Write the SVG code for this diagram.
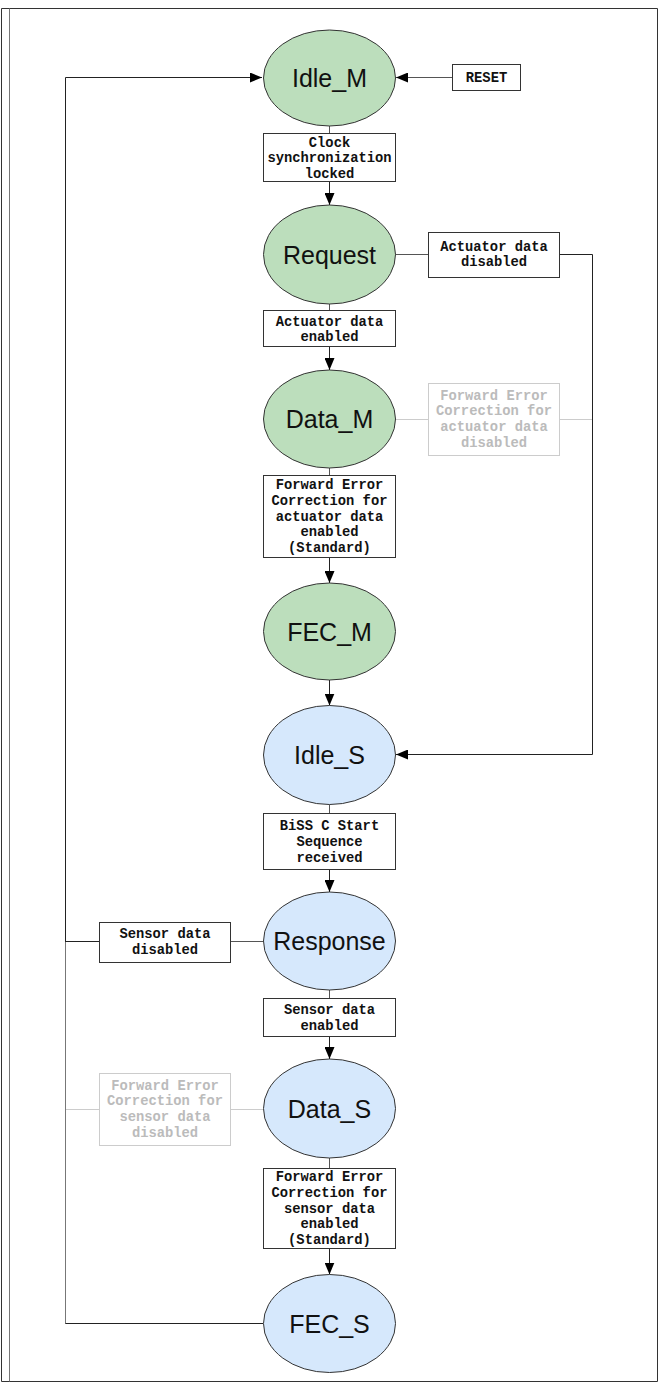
<svg xmlns="http://www.w3.org/2000/svg" width="660" height="1382" viewBox="0 0 660 1382">
<style>
.st{stroke:#333;stroke-width:1}
.g{fill:#bcdebc}
.b{fill:#d6e8fc}
.lbl{font-family:"Liberation Sans",Arial,sans-serif;font-size:25px;fill:#111;text-anchor:middle}
.box{fill:#fff;stroke:#333;stroke-width:1}
.gbox{fill:#fff;stroke:#ccc;stroke-width:1}
.bt{font-family:"Liberation Mono","Courier New",monospace;font-weight:bold;font-size:13.8px;fill:#111;text-anchor:middle}
.gt{font-family:"Liberation Mono","Courier New",monospace;font-weight:bold;font-size:13.8px;fill:#bbb;text-anchor:middle}
.c{fill:none;stroke:#222;stroke-width:1}
.cl{fill:none;stroke:#555;stroke-width:1}
.cm{fill:none;stroke:#777;stroke-width:1}
.cg{fill:none;stroke:#ccc;stroke-width:1}
</style>
<defs>
<marker id="arr" markerWidth="12" markerHeight="10" refX="12" refY="5" orient="auto" markerUnits="userSpaceOnUse"><path d="M0,0 L12,5 L0,10 z" fill="#000"/></marker>
</defs>
<rect x="0" y="0" width="660" height="1382" fill="#fff"/>
<g id="frame">
<path d="M1.5,8.5 H657.5 V1381.5 H1.5 Z" fill="none" stroke="#333" stroke-width="1"/>
<line x1="9.5" y1="8.5" x2="9.5" y2="1381.5" stroke="#777" stroke-width="1"/>
</g>
<g id="connectors">
<path class="c" d="M263,1323.5 H65.5 V77.5 H262" marker-end="url(#arr)"/>
<path class="cm" d="M65.5,1323 V942"/>
<path class="cg" d="M263,1109.5 H230"/>
<path class="cg" d="M99,1109.5 H66"/>
<path class="cl" d="M263,941.5 H230"/>
<path class="c" d="M99,941.5 H65.5 V80"/>
<path class="cl" d="M452,77.5 H396" marker-end="url(#arr)"/>
<path class="cl" d="M329.5,126 V133"/>
<path class="c" d="M329.5,182 V205" marker-end="url(#arr)"/>
<path class="cg" d="M395,419.5 H428"/>
<path class="cg" d="M559,419.5 H592.5"/>
<path class="cl" d="M395,254.5 H428"/>
<path class="c" d="M559,254.5 H592.5 V754.5 H396" marker-end="url(#arr)"/>
<path class="cl" d="M329.5,304 V310"/>
<path class="c" d="M329.5,346 V370" marker-end="url(#arr)"/>
<path class="cl" d="M329.5,468 V475"/>
<path class="c" d="M329.5,557 V583" marker-end="url(#arr)"/>
<path class="c" d="M329.5,680 V705.5" marker-end="url(#arr)"/>
<path class="cl" d="M329.5,804.5 V813"/>
<path class="c" d="M329.5,869 V892" marker-end="url(#arr)"/>
<path class="cl" d="M329.5,990 V998"/>
<path class="c" d="M329.5,1036 V1059" marker-end="url(#arr)"/>
<path class="cl" d="M329.5,1158 V1168"/>
<path class="c" d="M329.5,1248 V1274.5" marker-end="url(#arr)"/>
</g>
<g id="Idle_M"><ellipse class="st g" cx="329.5" cy="78" rx="66" ry="48"/><text class="lbl" x="329.5" y="87">Idle_M</text></g>
<g id="Request"><ellipse class="st g" cx="329.5" cy="254.5" rx="66" ry="49.5"/><text class="lbl" x="329.5" y="263.5">Request</text></g>
<g id="Data_M"><ellipse class="st g" cx="329.5" cy="419" rx="66" ry="49"/><text class="lbl" x="329.5" y="428">Data_M</text></g>
<g id="FEC_M"><ellipse class="st g" cx="329.5" cy="631.5" rx="66" ry="48.5"/><text class="lbl" x="329.5" y="640.5">FEC_M</text></g>
<g id="Idle_S"><ellipse class="st b" cx="329.5" cy="755" rx="66" ry="49.5"/><text class="lbl" x="329.5" y="764">Idle_S</text></g>
<g id="Response"><ellipse class="st b" cx="329.5" cy="941" rx="66" ry="49"/><text class="lbl" x="329.5" y="950">Response</text></g>
<g id="Data_S"><ellipse class="st b" cx="329.5" cy="1108.5" rx="66" ry="49.5"/><text class="lbl" x="329.5" y="1117.5">Data_S</text></g>
<g id="FEC_S"><ellipse class="st b" cx="329.5" cy="1323.5" rx="66" ry="49"/><text class="lbl" x="329.5" y="1332.5">FEC_S</text></g>
<g id="RESET"><rect class="box" x="452.5" y="64.5" width="68" height="26"/><text class="bt" x="486.5" y="81.5">RESET</text></g>
<g id="clock_locked"><rect class="box" x="263.5" y="133.5" width="132" height="48"/><text class="bt" x="329.5" y="146.5">Clock</text><text class="bt" x="329.5" y="162">synchronization</text><text class="bt" x="329.5" y="177.5">locked</text></g>
<g id="act_disabled"><rect class="box" x="428.5" y="232.5" width="131" height="45"/><text class="bt" x="494" y="250.5">Actuator data</text><text class="bt" x="494" y="266">disabled</text></g>
<g id="act_enabled"><rect class="box" x="263.5" y="310.5" width="132" height="36"/><text class="bt" x="329.5" y="325.5">Actuator data</text><text class="bt" x="329.5" y="341">enabled</text></g>
<g id="fec_act_disabled"><rect class="gbox" x="428.5" y="383.5" width="131" height="72"/><text class="gt" x="494" y="399.5">Forward Error</text><text class="gt" x="494" y="415">Correction for</text><text class="gt" x="494" y="431">actuator data</text><text class="gt" x="494" y="447">disabled</text></g>
<g id="fec_act_enabled"><rect class="box" x="263.5" y="475.5" width="132" height="82"/><text class="bt" x="329.5" y="488.5">Forward Error</text><text class="bt" x="329.5" y="504.5">Correction for</text><text class="bt" x="329.5" y="520.5">actuator data</text><text class="bt" x="329.5" y="536">enabled</text><text class="bt" x="329.5" y="552">(Standard)</text></g>
<g id="biss_start"><rect class="box" x="263.5" y="813.5" width="132" height="56"/><text class="bt" x="329.5" y="830">BiSS C Start</text><text class="bt" x="329.5" y="846">Sequence</text><text class="bt" x="329.5" y="861.5">received</text></g>
<g id="sensor_disabled"><rect class="box" x="99.5" y="922.5" width="131" height="40"/><text class="bt" x="165" y="938">Sensor data</text><text class="bt" x="165" y="953.5">disabled</text></g>
<g id="sensor_enabled"><rect class="box" x="263.5" y="998.5" width="132" height="38"/><text class="bt" x="329.5" y="1014">Sensor data</text><text class="bt" x="329.5" y="1029.5">enabled</text></g>
<g id="fec_sen_disabled"><rect class="gbox" x="99.5" y="1073.5" width="131" height="72"/><text class="gt" x="165" y="1089.5">Forward Error</text><text class="gt" x="165" y="1105">Correction for</text><text class="gt" x="165" y="1121">sensor data</text><text class="gt" x="165" y="1137">disabled</text></g>
<g id="fec_sen_enabled"><rect class="box" x="263.5" y="1168.5" width="132" height="80"/><text class="bt" x="329.5" y="1180.5">Forward Error</text><text class="bt" x="329.5" y="1196.5">Correction for</text><text class="bt" x="329.5" y="1212.5">sensor data</text><text class="bt" x="329.5" y="1228">enabled</text><text class="bt" x="329.5" y="1244">(Standard)</text></g>
</svg>
